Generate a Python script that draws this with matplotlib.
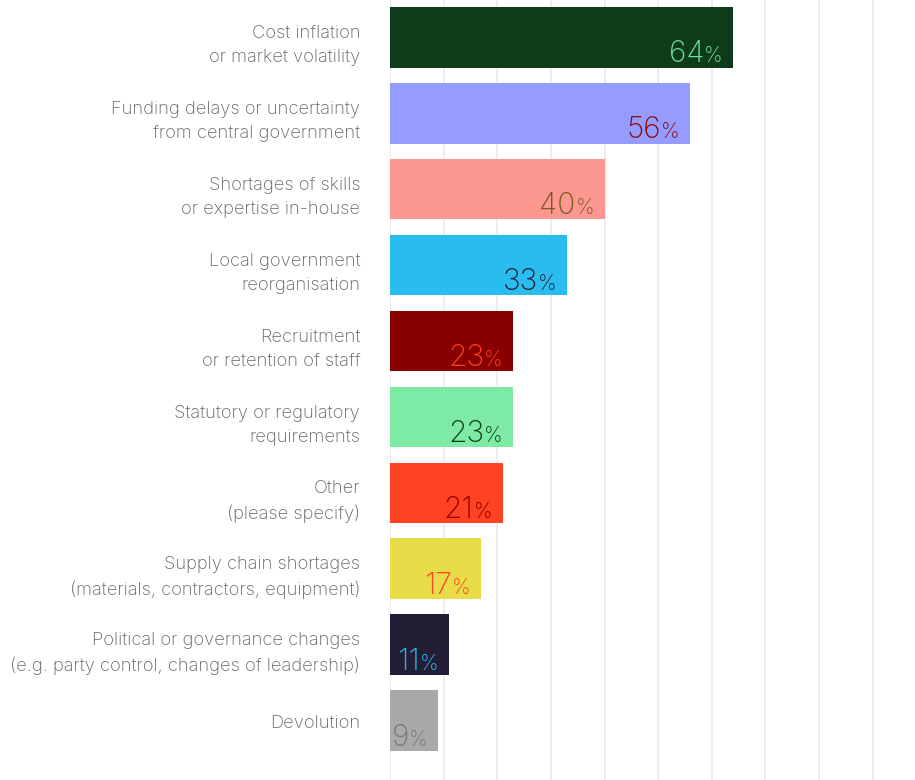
import matplotlib.pyplot as plt
from matplotlib.transforms import offset_copy

# Share of respondents citing each barrier (%)
categories = [
    "Cost inflation\nor market volatility",
    "Funding delays or uncertainty\nfrom central government",
    "Shortages of skills\nor expertise in-house",
    "Local government\nreorganisation",
    "Recruitment\nor retention of staff",
    "Statutory or regulatory\nrequirements",
    "Other\n(please specify)",
    "Supply chain shortages\n(materials, contractors, equipment)",
    "Political or governance changes\n(e.g. party control, changes of leadership)",
    "Devolution",
]
values = [64, 56, 40, 33, 23, 23, 21, 17, 11, 9]

bar_colors = ["#0e3b1a", "#969cff", "#fc9890", "#28bcef", "#880000",
              "#7deba6", "#ff4222", "#e8dd48", "#241d36", "#a9a9a9"]
label_colors = ["#6fe09b", "#8b0a0a", "#7a5a1e", "#241d36", "#ff4222",
                "#0e3b1a", "#880000", "#ff4222", "#28bcef", "#777777"]

plt.rcParams['font.family'] = ['Inter', 'DejaVu Sans']

fig = plt.figure(figsize=(9.15, 7.8), dpi=100)
ax = fig.add_axes([390 / 915, 0, 1 - 390 / 915, 1])

y = list(range(len(values)))
ax.barh(y, values, height=0.8, color=bar_colors, zorder=2)

ax.set_xlim(0, 97.9)
ax.set_ylim(9.78, -0.49)
ax.set_xticks(range(0, 100, 10))
ax.grid(axis='x', color='#ededed', linewidth=1.4, zorder=0)
ax.tick_params(left=False, bottom=False, labelbottom=False, labelleft=False)
for s in ax.spines.values():
    s.set_visible(False)

for i, (cat, v) in enumerate(zip(categories, values)):
    # category label to the left of the axis; two-line labels sit a little lower
    dy = -6 if "\n" in cat else -1.5
    ax.annotate(cat, xy=(0, i), xycoords='data', xytext=(-21.5, dy),
                textcoords='offset points', ha='right', va='center',
                fontsize=13.2, fontweight='light', color='#666666', linespacing=1.5)
    # value label: large number, smaller percent sign
    base = i + 0.4
    pct = ax.text(v, base, "%", transform=offset_copy(ax.transData, fig, x=-7.5, y=4, units='points'),
                  ha='right', va='baseline', fontsize=15, fontweight='light',
                  color=label_colors[i], zorder=3)
    fig.canvas.draw()
    w = pct.get_window_extent().width * 72 / fig.dpi
    ax.text(v, base, str(v), transform=offset_copy(ax.transData, fig, x=-7.5 - w, y=4, units='points'),
            ha='right', va='baseline', fontsize=21.5, fontweight='light',
            color=label_colors[i], zorder=3)

fig.savefig("out.png", dpi=100)
